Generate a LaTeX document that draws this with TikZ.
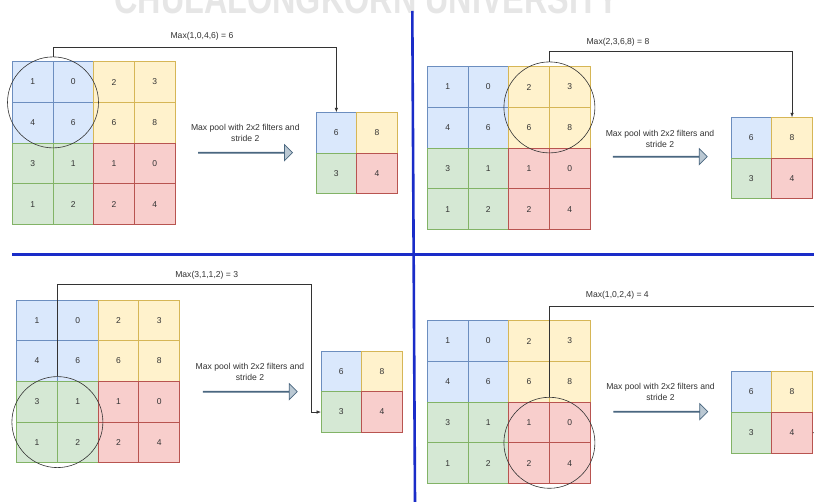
\documentclass[tikz,border=0pt]{standalone}
\usepackage{fontspec}
\setmainfont{Liberation Sans}
\usetikzlibrary{calc,shapes.arrows,arrows.meta}

\definecolor{bfill}{HTML}{DAE8FC}\definecolor{bline}{HTML}{6C8EBF}
\definecolor{yfill}{HTML}{FFF2CC}\definecolor{yline}{HTML}{D6B656}
\definecolor{gfill}{HTML}{D5E8D4}\definecolor{gline}{HTML}{82B366}
\definecolor{rfill}{HTML}{F8CECC}\definecolor{rline}{HTML}{B85450}
\definecolor{afill}{HTML}{BAC8D3}\definecolor{aline}{HTML}{4A6780}
\definecolor{txt}{HTML}{333333}
\definecolor{divider}{HTML}{1A2CC8}
\definecolor{wmark}{HTML}{E6E6E6}

\tikzset{
  cell/.style={minimum width=40.7pt, minimum height=40.7pt, inner sep=0pt,
    outer sep=0pt, anchor=north west, line width=0.75pt, text=txt,
    font=\fontsize{8.5}{10}\selectfont},
  cb/.style={cell, fill=bfill, draw=bline},
  cy/.style={cell, fill=yfill, draw=yline},
  cg/.style={cell, fill=gfill, draw=gline},
  cr/.style={cell, fill=rfill, draw=rline},
  window/.style={circle, draw=txt, line width=0.6pt, minimum size=91pt, inner sep=0pt},
  conn/.style={draw=txt, line width=0.6pt, -{Latex[length=4.5pt,width=3.5pt]}},
  poolarrow/.style={single arrow, draw=aline, fill=afill, line width=0.7pt,
    minimum height=94pt, minimum width=16pt, single arrow head extend=5.5pt,
    inner sep=0pt},
  caption/.style={text=txt, font=\fontsize{8.6}{10.5}\selectfont, align=center, inner sep=0pt},
  divline/.style={draw=divider, line width=2.6pt},
}

% 4x4 input grid, 2x2 output grid and the pooling window circle
% #1 name, (#2,#3) input top-left, (#4,#5) output top-left, #6 window anchor cell
\newcommand{\poolpanel}[6]{%
  \foreach \r/\c/\v/\s in {1/1/1/cb,1/2/0/cb,1/3/2/cy,1/4/3/cy,
                           2/1/4/cb,2/2/6/cb,2/3/6/cy,2/4/8/cy,
                           3/1/3/cg,3/2/1/cg,3/3/1/cr,3/4/0/cr,
                           4/1/1/cg,4/2/2/cg,4/3/2/cr,4/4/4/cr}
    \node[\s] (#1-\r-\c) at ({#2+(\c-1)*40.7}, {#3+(\r-1)*40.7}) {\v};
  \foreach \r/\c/\v/\s in {1/1/6/cb,1/2/8/cy,2/1/3/cg,2/2/4/cr}
    \node[\s] (#1-o-\r-\c) at ({#4+(\c-1)*40.7}, {#5+(\r-1)*40.7}) {\v};
  \node[window] (#1-win) at (#1-#6.south east) {};
}

\begin{document}
\begin{tikzpicture}[x=1pt, y=-1pt]
\useasboundingbox (0,0) rectangle (814,502);
\clip (0,0) rectangle (814,502);
\fill[white] (0,0) rectangle (814,502);

% faint heading, running off the top edge
\node[anchor=base, text=wmark, inner sep=0pt,
  font=\bfseries\fontsize{42}{42}\selectfont] (heading) at (367,14)
  {\scalebox{0.77}[1]{CHULALONGKORN UNIVERSITY}};

% panel 1: top-left window
\poolpanel{pa}{12.3}{61.7}{316}{112.3}{1-1}
\draw[conn] (pa-win.north) -- ++(0,-9.4) -| (pa-o-1-1.north);
\node[caption] (pa-max) at (202,36) {Max(1,0,4,6) = 6};
\node[poolarrow] (pa-arrow) at (245.3,152.7) {};
\node[caption] (pa-text) at (245.3,132.7) {Max pool with 2x2 filters and\\stride 2};

% panel 2: top-right window
\poolpanel{pb}{427.3}{66.7}{731}{117.3}{1-3}
\draw[conn] (pb-win.north) -- ++(0,-10.7) -| (pb-o-1-2.north);
\node[caption] (pb-max) at (618,42.7) {Max(2,3,6,8) = 8};
\node[poolarrow] (pb-arrow) at (660,156.7) {};
\node[caption] (pb-text) at (660,138.7) {Max pool with 2x2 filters and\\stride 2};

% panel 3: bottom-left window
\poolpanel{pc}{16.7}{300}{321}{351}{3-1}
\coordinate (pc-bend) at (311.7,284.3);
\draw[conn] (pc-win.north) |- (pc-bend) |- (pc-o-2-1.west);
\node[caption] (pc-max) at (206.7,275) {Max(3,1,1,2) = 3};
\node[poolarrow] (pc-arrow) at (250,391.7) {};
\node[caption] (pc-text) at (250,372) {Max pool with 2x2 filters and\\stride 2};

% panel 4: bottom-right window
\poolpanel{pd}{427.3}{320.7}{731}{371.7}{3-3}
\coordinate (pd-bend) at (835,306.7);
\draw[conn] (pd-win.north) |- (pd-bend) |- (pd-o-2-2.east);
\node[caption] (pd-max) at (617.3,295) {Max(1,0,2,4) = 4};
\node[poolarrow] (pd-arrow) at (660.5,411.7) {};
\node[caption] (pd-text) at (660.5,391.7) {Max pool with 2x2 filters and\\stride 2};

% dividing lines between the four panels
\coordinate (vtop) at (412.3,11);
\coordinate (vbot) at (415,502);
\coordinate (hleft) at (12,254.5);
\coordinate (hright) at (814,254.5);
\draw[divline] (vtop) -- (vbot);
\draw[divline] (hleft) -- (hright);
\end{tikzpicture}
\end{document}
